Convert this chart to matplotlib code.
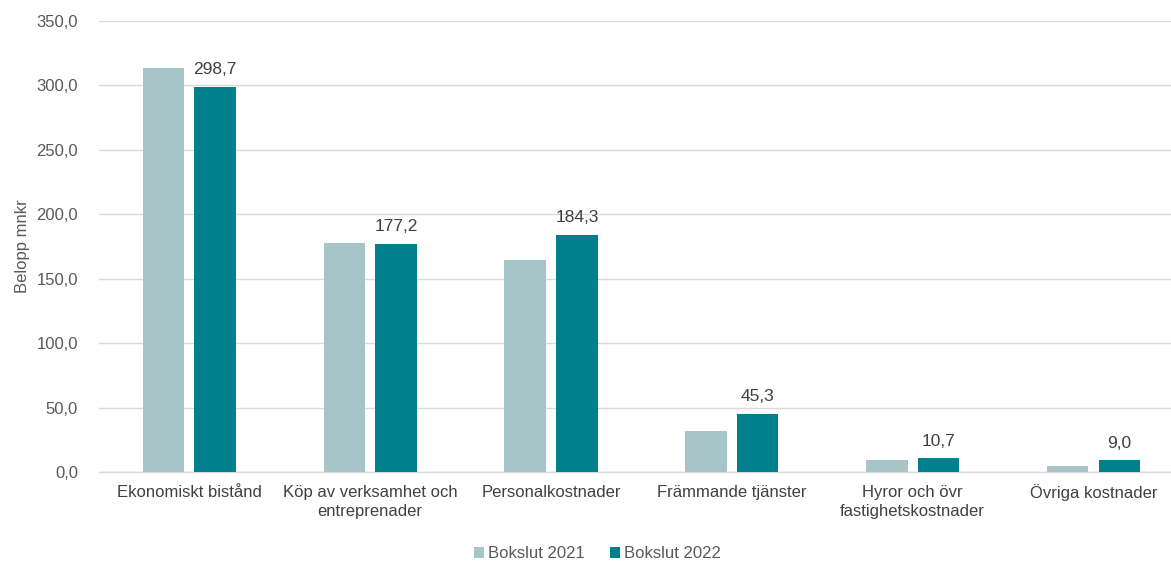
import matplotlib.pyplot as plt
import numpy as np

plt.rcParams['font.family'] = ['Liberation Sans', 'DejaVu Sans']

categories = ['Ekonomiskt bistånd', 'Köp av verksamhet och\nentreprenader', 'Personalkostnader',
              'Främmande tjänster', 'Hyror och övr\nfastighetskostnader', 'Övriga kostnader']
bokslut_2021 = [313.5, 177.7, 164.5, 31.8, 9.3, 4.7]
bokslut_2022 = [298.7, 177.2, 184.3, 45.3, 10.7, 9.0]

light = '#A7C4C9'
dark = '#007F8C'
txt = '#595959'

fig = plt.figure(figsize=(11.71, 5.61), dpi=100)
ax = fig.add_axes([0.0845, 0.1586, 0.9265, 0.804])

x = np.arange(len(categories))
w = 0.23
gap = 0.056
ax.bar(x - (w + gap) / 2, bokslut_2021, w, color=light, label='Bokslut 2021', zorder=3)
bars = ax.bar(x + (w + gap) / 2, bokslut_2022, w, color=dark, label='Bokslut 2022', zorder=3)

for r, v in zip(bars, bokslut_2022):
    ax.annotate(f'{v:.1f}'.replace('.', ','), xy=(r.get_x() + r.get_width() / 2, v),
                xytext=(0, 7), textcoords='offset points', ha='center', va='bottom',
                fontsize=12.5, color='#404040')

ax.set_xlim(-0.5, len(categories) - 0.5)
ax.set_ylim(0, 350)
ticks = np.arange(0, 351, 50)
ax.set_yticks(ticks)
ax.set_yticklabels([f'{t:.1f}'.replace('.', ',') for t in ticks], fontsize=12, color=txt)
ax.set_xticks(x)
ax.set_xticklabels(categories, fontsize=12, color='#404040', linespacing=1.4)
ax.tick_params(axis='both', length=0)
ax.tick_params(axis='y', pad=15)
ax.tick_params(axis='x', pad=9)
ax.grid(axis='y', color='#D9D9D9', linewidth=1, zorder=0)
for s in ['top', 'right', 'left']:
    ax.spines[s].set_visible(False)
ax.spines['bottom'].set_color('#D9D9D9')
ax.spines['bottom'].set_linewidth(1)

ax.set_ylabel('Belopp mnkr', fontsize=12, color=txt, labelpad=5)

fig.legend(loc='center', bbox_to_anchor=(0.51, 0.013), ncol=2, frameon=False,
           fontsize=12, handlelength=0.6, handleheight=0.6, handletextpad=0.25,
           columnspacing=1.5, labelcolor=txt)

fig.savefig('out.png', dpi=100)
